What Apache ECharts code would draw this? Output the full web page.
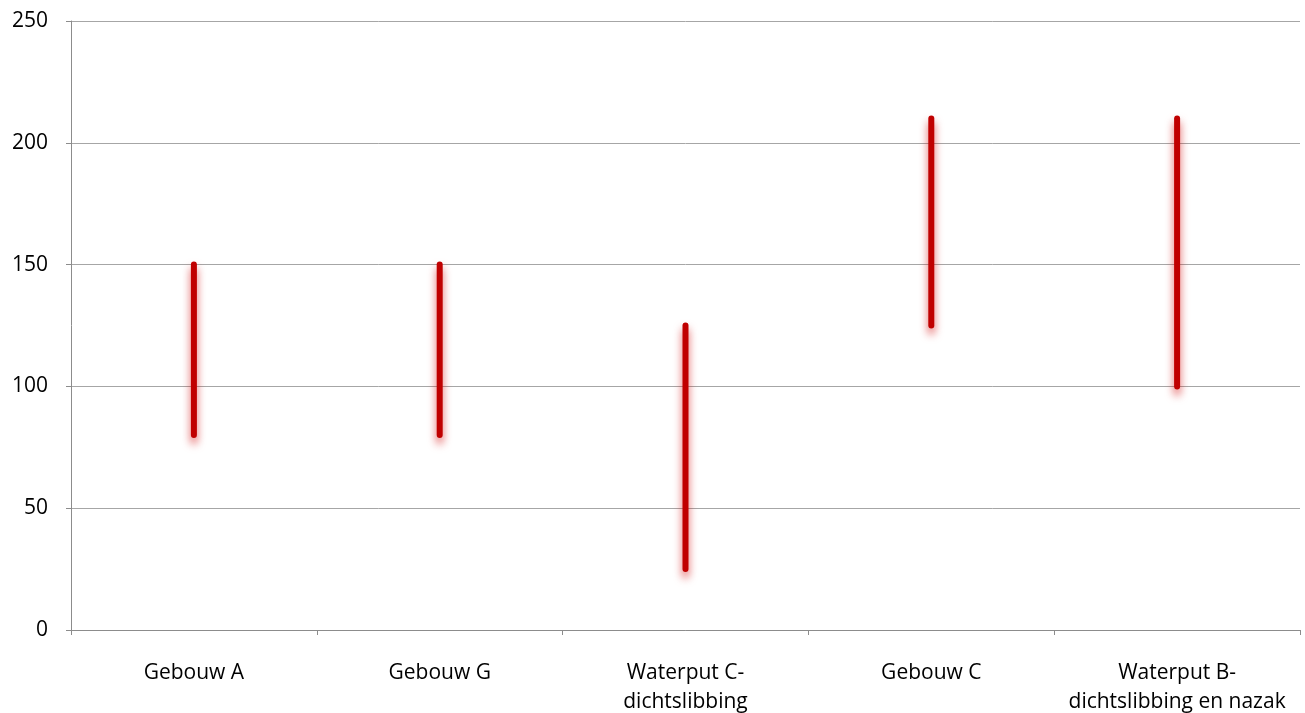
<!DOCTYPE html>
<html><head><meta charset="utf-8">
<script src="https://cdn.jsdelivr.net/npm/echarts@6/dist/echarts.min.js"></script>
<style>html,body{margin:0;padding:0;background:#fff}#c{width:1305px;height:713px}</style>
</head><body><div id="c"></div>
<script>
const categories = ['Gebouw A', 'Gebouw G', 'Waterput C-\ndichtslibbing', 'Gebouw C', 'Waterput B-\ndichtslibbing en nazak'];
const lowValues = [80, 80, 25, 125, 100];
const highValues = [150, 150, 125, 210, 210];
const yTicks = { min: 0, max: 250, interval: 50 };

const chart = echarts.init(document.getElementById('c'));
const data = categories.map((c, i) => [i, lowValues[i], highValues[i]]);
const font = '"Open Sans", "Liberation Sans", sans-serif';
chart.setOption({
  animation: false,
  grid: { left: 71, right: 5, top: 21, bottom: 83, containLabel: false, outerBoundsMode: 'none' },
  xAxis: {
    type: 'category', data: categories,
    axisLine: { lineStyle: { color: '#8c8c8c', width: 1 } },
    axisTick: { show: true, length: 5, lineStyle: { color: '#8c8c8c' } },
    axisLabel: { color: '#000', fontSize: 21, fontFamily: font, lineHeight: 29, margin: 29, interval: 0 }
  },
  yAxis: {
    type: 'value', min: yTicks.min, max: yTicks.max, interval: yTicks.interval,
    axisLine: { show: true, lineStyle: { color: '#8c8c8c', width: 1 } },
    axisTick: { show: true, length: 5, lineStyle: { color: '#8c8c8c' } },
    splitLine: { lineStyle: { color: '#a6a6a6', width: 1 } },
    axisLabel: { color: '#000', fontSize: 21, fontFamily: font, margin: 23 }
  },
  series: [{
    type: 'custom',
    data: data,
    renderItem: function (params, api) {
      const p1 = api.coord([api.value(0), api.value(1)]);
      const p2 = api.coord([api.value(0), api.value(2)]);
      return {
        type: 'line',
        shape: { x1: p1[0], y1: p1[1], x2: p2[0], y2: p2[1] },
        style: {
          stroke: '#c00000', lineWidth: 6, lineCap: 'round',
          shadowBlur: 9, shadowColor: 'rgba(210,0,0,0.65)', shadowOffsetY: 6
        }
      };
    }
  }]
});
</script></body></html>
